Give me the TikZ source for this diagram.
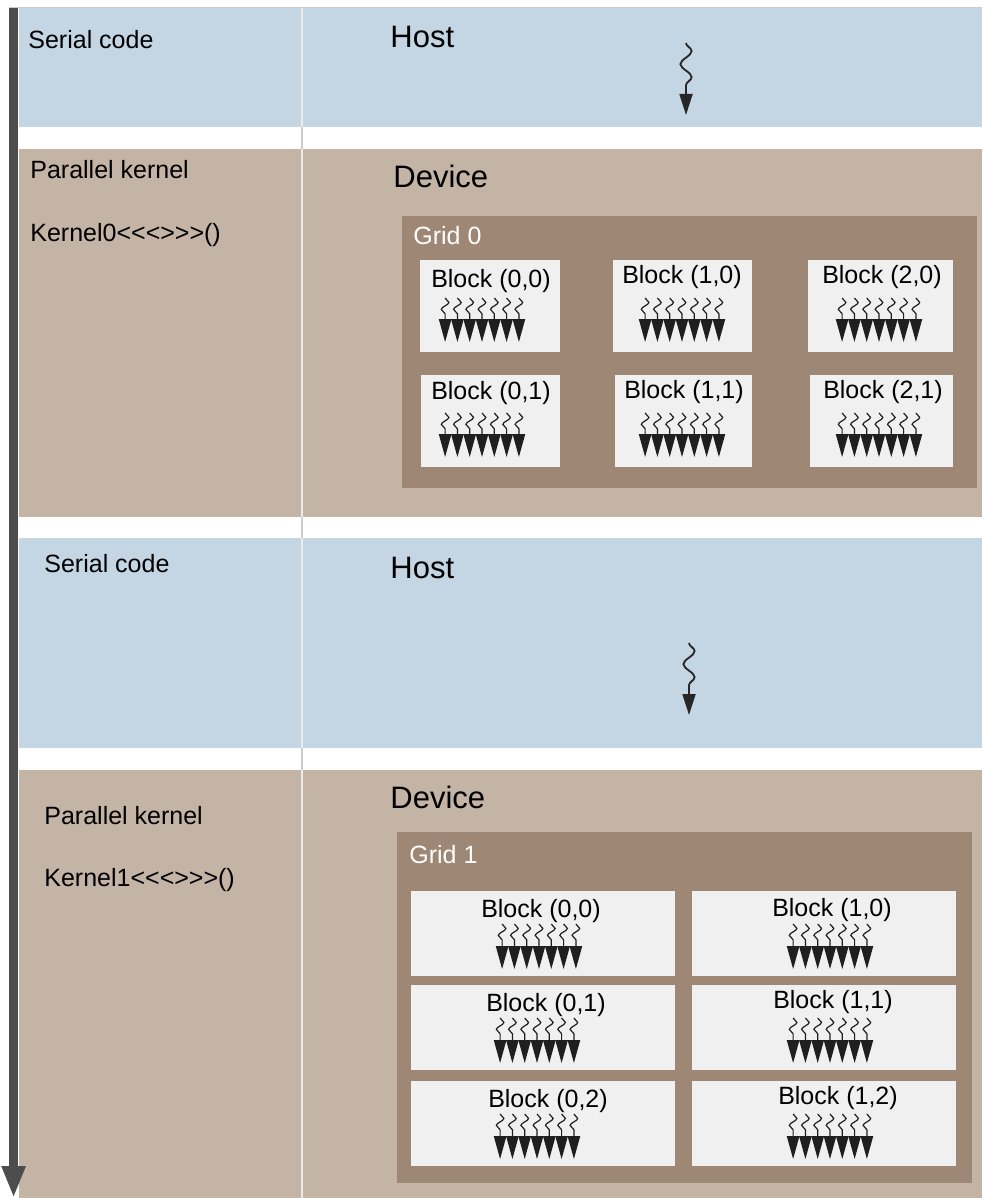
\documentclass[tikz,border=0pt]{standalone}
\usepackage{fontspec}
\setmainfont{Liberation Sans}[Ligatures=TeXOff]
\usetikzlibrary{arrows.meta,decorations.pathmorphing}

\definecolor{hostblue}{HTML}{C4D6E4}
\definecolor{devtan}{HTML}{C4B4A6}
\definecolor{gridbrown}{HTML}{9E8774}
\definecolor{blockgray}{HTML}{F0F0F0}
\definecolor{timegray}{HTML}{4D4D4D}

\tikzset{
  txt/.style={font=\fontsize{12.5}{15}\selectfont, inner sep=0pt, anchor=base west},
  bigtxt/.style={font=\fontsize{15.5}{18}\selectfont, inner sep=0pt, anchor=base west},
  thread/.style={line width=0.6pt, black!88, decorate,
    decoration={snake, amplitude=1.9pt, segment length=7pt, post length=12pt},
    -{Triangle[length=11.5pt,width=6.2pt]}},
  bigthread/.style={line width=0.9pt, black!85, decorate,
    decoration={snake, amplitude=2.8pt, segment length=13pt, post length=11pt},
    -{Triangle[length=10.5pt,width=6.5pt]}}
}

\begin{document}
\begin{tikzpicture}[x=0.5pt,y=-0.5pt]
	\useasboundingbox (0,0) rectangle (982,1198);
	
	% host and device bands
	\fill[hostblue] (19,8) rectangle (982,127);
	\fill[devtan] (19,149) rectangle (982,517);
	\fill[hostblue] (19,538) rectangle (982,748);
	\fill[devtan] (19,770) rectangle (982,1198);
	\draw[gray!40, line width=0.5pt] (9,7.5) -- (982,7.5);
	
	\draw[black!20, line width=1pt] (301.5,8) -- (301.5,1198);
	\foreach \a/\b in {8/127,149/517,538/748,770/1198}
		\draw[white!92!black, line width=1pt] (301.5,\a) -- (301.5,\b);
	
	% time axis
	\draw[timegray, line width=4.7pt, -{Triangle[length=16pt,width=11pt]}] (13.6,8) -- (13.6,1198);
	
	% first host part
	\node[txt] at (28,49) (serial0) {Serial code};
	\node[bigtxt] at (390,48) (host0) {Host};
	\draw[bigthread] (686,43) -- (686,115);
	
	% first device part
	\node[txt] at (30,179) (par0) {Parallel kernel};
	\node[txt] at (30,242) (kern0) {Kernel0<<<>>>()};
	\node[bigtxt] at (393,188) (dev0) {Device};
	
	\fill[gridbrown] (402,216) rectangle (977,488);
	\node[txt, white] at (413,244) (grid0) {Grid 0};
	\foreach \n/\l/\t/\r/\b/\lx/\ly/\tx/\lab in {
		a00/420/260/560/352/491/287/482/{(0,0)},
		a10/613/260/752/352/682/283/682/{(1,0)},
		a20/808/260/953/352/882/283/879/{(2,0)},
		a01/421/375/560/467/491/399/482/{(0,1)},
		a11/615/375/752/467/684/398/682/{(1,1)},
		a21/810/375/953/467/883/398/879/{(2,1)}}{
		\fill[blockgray] (\l,\t) rectangle (\r,\b);
		\node[txt, anchor=base] at (\lx,\ly) (\n) {Block \lab};
		\foreach \k in {-3,...,3}
			\draw[thread] (\tx+\k*12.3,\t+38) -- (\tx+\k*12.3,\t+82);
	}
	
	% second host part
	\node[txt] at (44,572) (serial1) {Serial code};
	\node[bigtxt] at (390,578) (host1) {Host};
	\draw[bigthread] (689,643) -- (689,715);
	
	% second device part
	\node[txt] at (44,824) (par1) {Parallel kernel};
	\node[txt] at (44,886) (kern1) {Kernel1<<<>>>()};
	\node[bigtxt] at (390,808) (dev1) {Device};
	
	\fill[gridbrown] (397,832) rectangle (972,1183);
	\node[txt, white] at (409,863) (grid1) {Grid 1};
	\foreach \n/\l/\t/\r/\b/\lx/\ly/\tx/\lab in {
		c00/411/891/675/976/541/917/539/{(0,0)},
		c10/692/891/956/976/832/916/830/{(1,0)},
		c01/411/985/675/1070/546/1011/537/{(0,1)},
		c11/692/985/956/1070/833/1008/830/{(1,1)},
		c02/411/1081/675/1166/548/1107/537/{(0,2)},
		c12/692/1081/956/1166/838/1104/830/{(1,2)}}{
		\fill[blockgray] (\l,\t) rectangle (\r,\b);
		\node[txt, anchor=base] at (\lx,\ly) (\n) {Block \lab};
		\foreach \k in {-3,...,3}
			\draw[thread] (\tx+\k*12.3,\t+33) -- (\tx+\k*12.3,\t+78);
	}
\end{tikzpicture}
\end{document}
